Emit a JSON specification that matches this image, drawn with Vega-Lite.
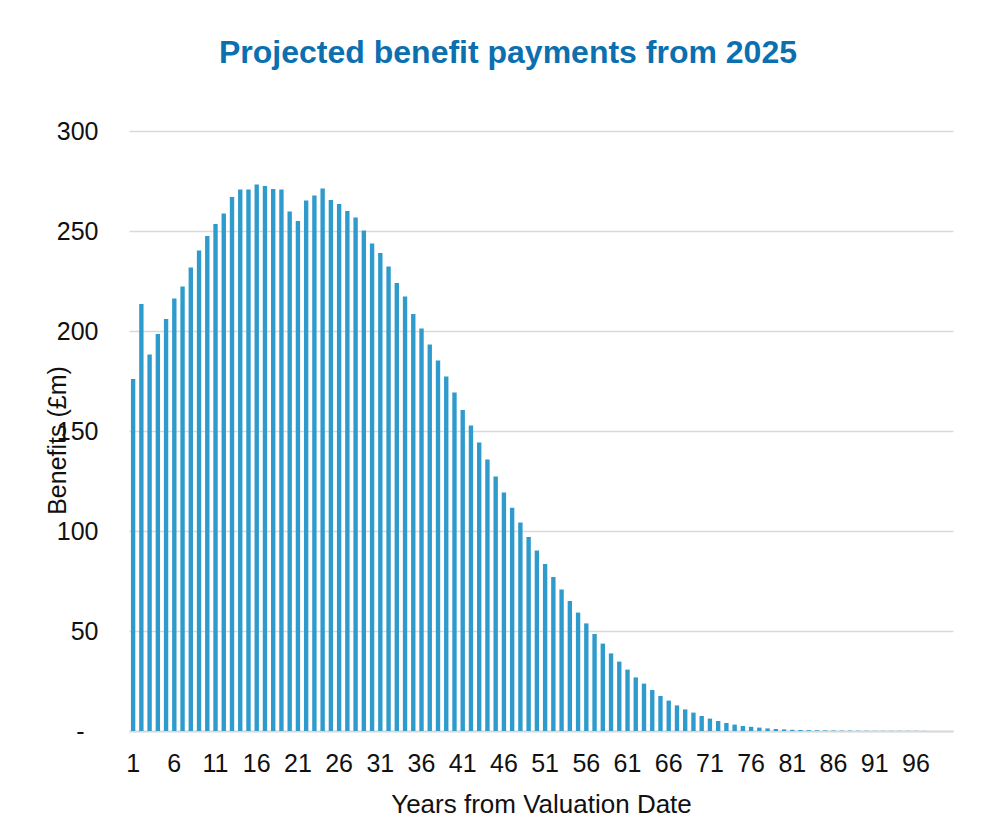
{
  "$schema": "https://vega.github.io/schema/vega-lite/v6.json",
  "width": 824,
  "height": 600,
  "autosize": {"type": "none"},
  "padding": {"left": 129, "top": 131, "right": 49, "bottom": 99},
  "background": "white",
  "config": {
    "font": "Liberation Sans",
    "view": {"stroke": null}
  },
  "title": {
    "text": "Projected benefit payments from 2025",
    "font": "Liberation Sans",
    "fontSize": 32,
    "fontWeight": "bold",
    "color": "#0b6fb0",
    "anchor": "middle",
    "frame": "group",
    "baseline": "alphabetic",
    "offset": 24,
    "dx": -33
  },
  "data": {
    "values": [
      {"year": 1, "benefit": 176}, {"year": 2, "benefit": 213.5}, {"year": 3, "benefit": 188.3}, {"year": 4, "benefit": 198.5}, {"year": 5, "benefit": 206},
      {"year": 6, "benefit": 216.3}, {"year": 7, "benefit": 222.3}, {"year": 8, "benefit": 231.8}, {"year": 9, "benefit": 240.3}, {"year": 10, "benefit": 247.5},
      {"year": 11, "benefit": 253.5}, {"year": 12, "benefit": 258.8}, {"year": 13, "benefit": 267}, {"year": 14, "benefit": 270.7}, {"year": 15, "benefit": 270.8},
      {"year": 16, "benefit": 273.2}, {"year": 17, "benefit": 272.5}, {"year": 18, "benefit": 271}, {"year": 19, "benefit": 270.8}, {"year": 20, "benefit": 259.8},
      {"year": 21, "benefit": 255}, {"year": 22, "benefit": 265.2}, {"year": 23, "benefit": 267.8}, {"year": 24, "benefit": 271.3}, {"year": 25, "benefit": 265.5},
      {"year": 26, "benefit": 263.5}, {"year": 27, "benefit": 260}, {"year": 28, "benefit": 256.8}, {"year": 29, "benefit": 250.3}, {"year": 30, "benefit": 243.8},
      {"year": 31, "benefit": 239}, {"year": 32, "benefit": 232.2}, {"year": 33, "benefit": 224}, {"year": 34, "benefit": 217.3}, {"year": 35, "benefit": 208.5},
      {"year": 36, "benefit": 201.3}, {"year": 37, "benefit": 193.2}, {"year": 38, "benefit": 185.3}, {"year": 39, "benefit": 177.2}, {"year": 40, "benefit": 169.3},
      {"year": 41, "benefit": 160.5}, {"year": 42, "benefit": 152.7}, {"year": 43, "benefit": 144.2}, {"year": 44, "benefit": 135.7}, {"year": 45, "benefit": 127.3},
      {"year": 46, "benefit": 119.2}, {"year": 47, "benefit": 111.6}, {"year": 48, "benefit": 104.2}, {"year": 49, "benefit": 97}, {"year": 50, "benefit": 90.2},
      {"year": 51, "benefit": 83.5}, {"year": 52, "benefit": 77}, {"year": 53, "benefit": 70.8}, {"year": 54, "benefit": 65}, {"year": 55, "benefit": 59.2},
      {"year": 56, "benefit": 53.8}, {"year": 57, "benefit": 48.5}, {"year": 58, "benefit": 43.7}, {"year": 59, "benefit": 38.8}, {"year": 60, "benefit": 34.7},
      {"year": 61, "benefit": 30.7}, {"year": 62, "benefit": 26.8}, {"year": 63, "benefit": 23.7}, {"year": 64, "benefit": 20.5}, {"year": 65, "benefit": 17.5},
      {"year": 66, "benefit": 15.2}, {"year": 67, "benefit": 12.8}, {"year": 68, "benefit": 10.8}, {"year": 69, "benefit": 9.2}, {"year": 70, "benefit": 7.5},
      {"year": 71, "benefit": 6.2}, {"year": 72, "benefit": 5}, {"year": 73, "benefit": 4}, {"year": 74, "benefit": 3.2}, {"year": 75, "benefit": 2.5},
      {"year": 76, "benefit": 2.1}, {"year": 77, "benefit": 1.7}, {"year": 78, "benefit": 1.3}, {"year": 79, "benefit": 1.0}, {"year": 80, "benefit": 0.8},
      {"year": 81, "benefit": 0.6}, {"year": 82, "benefit": 0.5}, {"year": 83, "benefit": 0.4}, {"year": 84, "benefit": 0.35}, {"year": 85, "benefit": 0.3},
      {"year": 86, "benefit": 0.25}, {"year": 87, "benefit": 0.2}, {"year": 88, "benefit": 0.2}, {"year": 89, "benefit": 0.15}, {"year": 90, "benefit": 0.15},
      {"year": 91, "benefit": 0.1}, {"year": 92, "benefit": 0.1}, {"year": 93, "benefit": 0.1}, {"year": 94, "benefit": 0.1}, {"year": 95, "benefit": 0.1},
      {"year": 96, "benefit": 0.1}, {"year": 97, "benefit": 0.05}, {"year": 98, "benefit": 0}, {"year": 99, "benefit": 0}, {"year": 100, "benefit": 0}
    ]
  },
  "mark": {"type": "bar", "color": "#2e9bcc"},
  "encoding": {
    "x": {
      "field": "year",
      "type": "ordinal",
      "scale": {"paddingInner": 0.47, "paddingOuter": 0.235},
      "axis": {
        "title": "Years from Valuation Date",
        "values": [1, 6, 11, 16, 21, 26, 31, 36, 41, 46, 51, 56, 61, 66, 71, 76, 81, 86, 91, 96],
        "labelAngle": 0,
        "labelFontSize": 25,
        "labelColor": "#111111",
        "labelBaseline": "alphabetic",
        "labelPadding": 40,
        "ticks": false,
        "tickSize": 0,
        "domain": true,
        "domainColor": "#d9d9d9",
        "domainWidth": 2,
        "grid": false,
        "titleFontSize": 26,
        "titleFontWeight": "normal",
        "titleColor": "#111111",
        "titleBaseline": "alphabetic",
        "titleAlign": "center",
        "titleAnchor": null,
        "titleX": 412,
        "titleY": 81
      }
    },
    "y": {
      "field": "benefit",
      "type": "quantitative",
      "scale": {"domain": [0, 300], "nice": false},
      "axis": {
        "title": "Benefits (£m)",
        "values": [0, 50, 100, 150, 200, 250, 300],
        "labelExpr": "datum.value === 0 ? '-' : datum.label",
        "labelFontSize": 25,
        "labelColor": "#111111",
        "labelPadding": {"condition": {"test": "datum.value === 0", "value": 45}, "value": 31},
        "ticks": false,
        "tickSize": 0,
        "domain": false,
        "grid": true,
        "gridColor": "#d9d9d9",
        "gridWidth": 1.5,
        "titleFontSize": 25,
        "titleFontWeight": "normal",
        "titleColor": "#111111",
        "titleAngle": 270,
        "titleBaseline": "alphabetic",
        "titleAlign": "center",
        "titleAnchor": null,
        "titleX": -64,
        "titleY": 309
      }
    }
  }
}
